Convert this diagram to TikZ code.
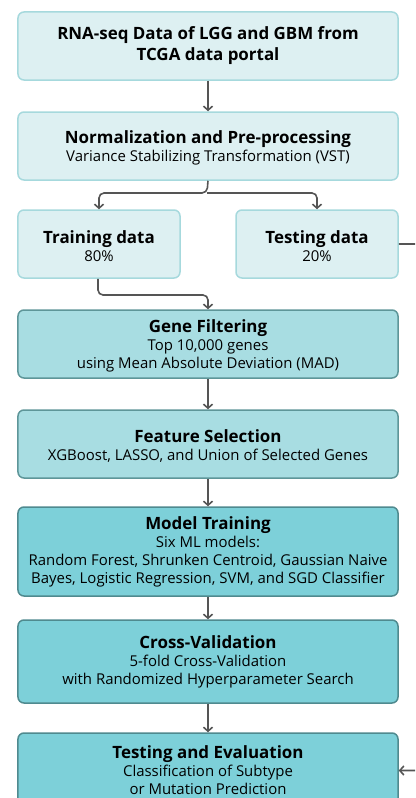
\documentclass[tikz,border=0pt]{standalone}
\usepackage{fontspec}
\setmainfont{Open Sans}
\usetikzlibrary{arrows.meta}
\definecolor{lightfill}{HTML}{DDF0F2}
\definecolor{lightdraw}{HTML}{A6D9DD}
\definecolor{midfill}{HTML}{A8DDE2}
\definecolor{middraw}{HTML}{5E9699}
\definecolor{darkfill}{HTML}{7DD0D9}
\definecolor{darkdraw}{HTML}{4F8A8F}
\definecolor{arrowgray}{HTML}{555555}
\tikzset{
  boxbase/.style={rectangle, rounded corners=6bp, line width=1.5bp, align=center, inner sep=0pt, text=black, font=\fontsize{15}{18}\selectfont},
  lightbox/.style={boxbase, fill=lightfill, draw=lightdraw},
  midbox/.style={boxbase, fill=midfill, draw=middraw},
  darkbox/.style={boxbase, fill=darkfill, draw=darkdraw},
  wide/.style={minimum width=380bp},
  half/.style={minimum width=162bp},
  conn/.style={draw=arrowgray, line width=1.6bp, rounded corners=5bp, -{Straight Barb[length=4bp,width=9bp,line width=1.6bp]}},
}
\newcommand{\ttlx}[1]{{\fontsize{17}{18}\selectfont\bfseries #1}}
\newcommand{\ttly}[1]{{\rule{0pt}{17bp}\fontsize{17}{18}\selectfont\bfseries #1}}
\begin{document}
\begin{tikzpicture}[x=1bp,y=-1bp]
\useasboundingbox (0,0) rectangle (415,798);
\clip (0,0) rectangle (415,798);
\fill[white] (0,0) rectangle (415,798);

\node[lightbox, wide, minimum height=68bp, font=\fontsize{17}{21}\selectfont\bfseries] (b1) at (208,46)
  {RNA-seq Data of LGG and GBM from\\TCGA data portal};
\node[lightbox, wide, minimum height=68bp] (b2) at (208,146)
  {\ttly{Normalization and Pre-processing}\\Variance Stabilizing Transformation (VST)};
\node[lightbox, half, minimum height=68bp] (train) at (99,244)
  {\ttly{Training data}\\80\%};
\node[lightbox, half, minimum height=68bp] (test) at (317,244)
  {\ttly{Testing data}\\20\%};
\node[midbox, wide, minimum height=68bp] (gf) at (208,344)
  {\ttly{Gene Filtering}\\Top 10,000 genes\\using Mean Absolute Deviation (MAD)};
\node[midbox, wide, minimum height=68bp] (fs) at (208,444)
  {\ttly{Feature Selection}\\XGBoost, LASSO, and Union of Selected Genes};
\node[darkbox, wide, minimum height=89bp] (mt) at (208,551.5)
  {\ttlx{Model Training}\\Six ML models:\\Random Forest, Shrunken Centroid, Gaussian Naive\\Bayes, Logistic Regression, SVM, and SGD Classifier};
\node[darkbox, wide, minimum height=83bp] (cv) at (208,661.5)
  {\ttlx{Cross-Validation}\\5-fold Cross-Validation\\with Randomized Hyperparameter Search};
\node[darkbox, wide, minimum height=75bp] (te) at (208,770.5)
  {\ttlx{Testing and Evaluation}\\Classification of Subtype\\or Mutation Prediction};

\coordinate (fork) at (207,193);
\coordinate (join) at (98,295);

\draw[conn] (b1) -- (b2);
\draw[conn] (b2.south) -- (fork) -| (train.north);
\draw[conn] (fork) -| (test.north);
\draw[conn] (train.south -| join) -- (join) -| (gf.north);
\draw[conn] (gf) -- (fs);
\draw[conn] (fs) -- (mt);
\draw[conn] (mt) -- (cv);
\draw[conn] (cv) -- (te);
\draw[conn] (test.east) -- ++(40,0) |- (te.east);
\end{tikzpicture}
\end{document}
